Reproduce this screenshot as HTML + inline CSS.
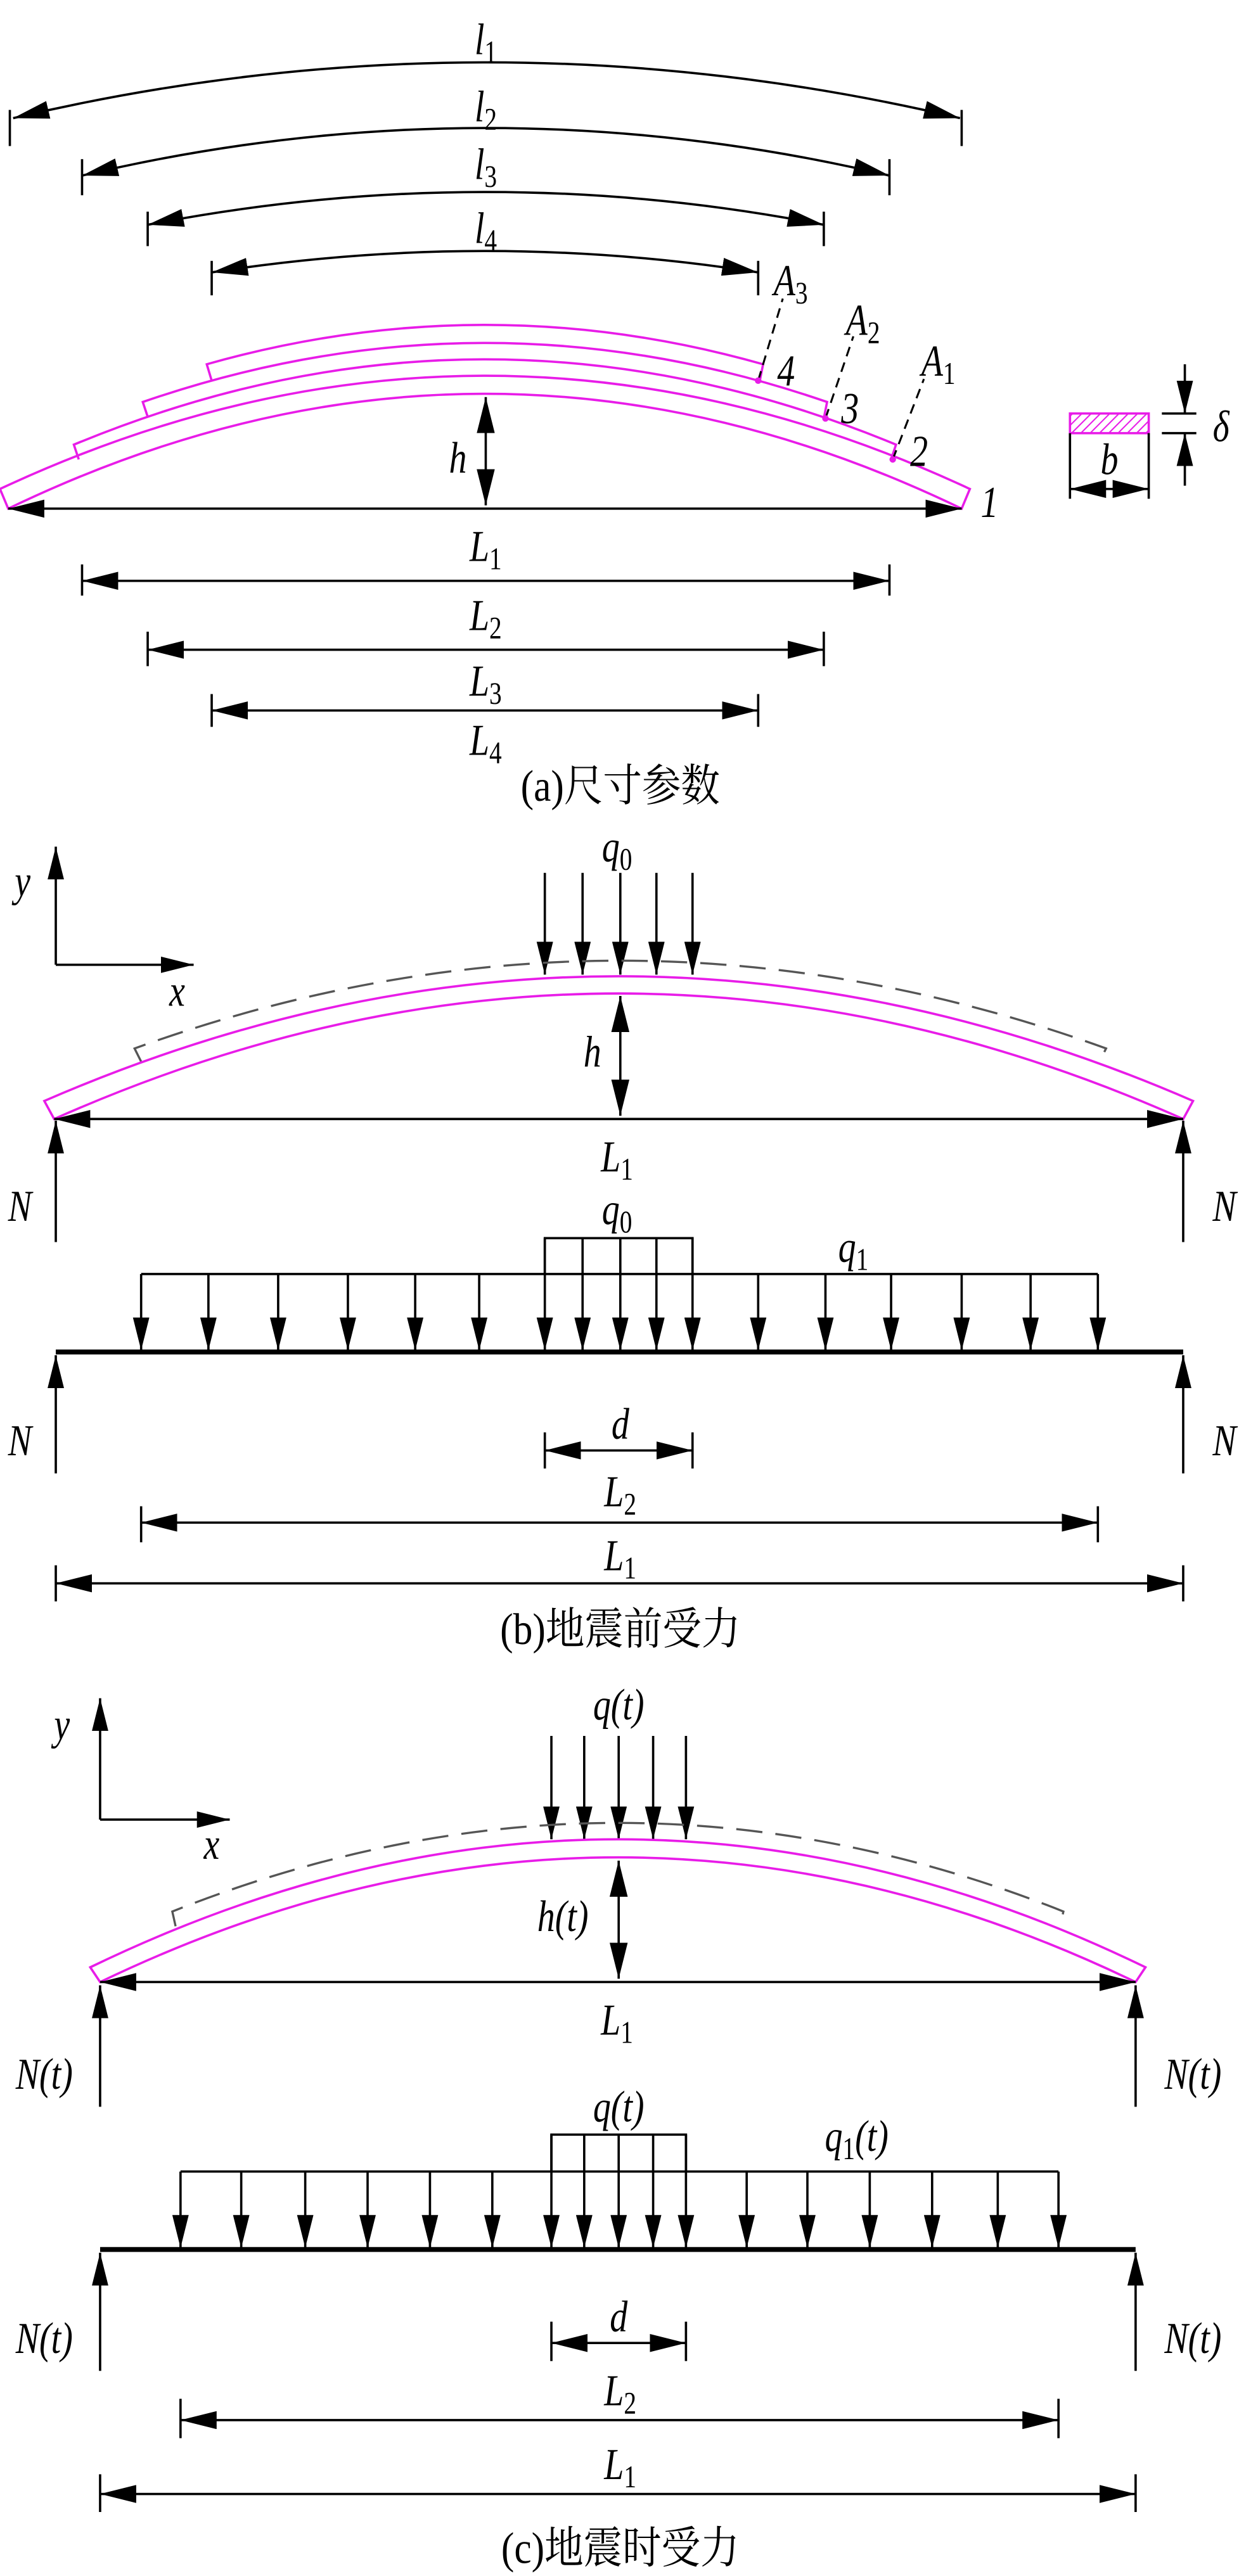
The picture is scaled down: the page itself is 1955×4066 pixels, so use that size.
<!DOCTYPE html>
<html><head><meta charset="utf-8">
<style>
html,body{margin:0;padding:0;background:#fff;}
svg{display:block;}
text{font-family:"Liberation Serif","Noto Serif CJK SC",serif;fill:#000;}
.v{font-style:italic;font-size:27px;text-anchor:middle;transform-box:fill-box;transform-origin:center;transform:scaleX(0.8);}
.s{font-style:normal;font-size:19px;}
.cap{font-family:"Liberation Serif","Noto Serif CJK SC","Noto Sans CJK SC",serif;font-size:27px;text-anchor:middle;transform-box:fill-box;transform-origin:center;transform:scaleX(0.88);}
.ln{stroke:#000;stroke-width:1.4;fill:none;}
.mg{stroke:#e81ce8;stroke-width:1.4;fill:none;}
.gd{stroke:#555;stroke-width:1.3;fill:none;stroke-dasharray:16,8;}
</style></head>
<body>
<svg width="1955" height="4066" viewBox="0 0 755 1570" preserveAspectRatio="none" xmlns="http://www.w3.org/2000/svg">
<defs>
<marker id="a" markerUnits="userSpaceOnUse" markerWidth="22" markerHeight="11" refX="22" refY="5.5" orient="auto-start-reverse" viewBox="0 0 22 11"><path d="M0,0 L22,5.5 L0,11 z" fill="#000"/></marker>
<marker id="d" markerUnits="userSpaceOnUse" markerWidth="20" markerHeight="10" refX="20" refY="5" orient="auto" viewBox="0 0 20 10"><path d="M0,0 L20,5 L0,10 z" fill="#000"/></marker>
<pattern id="h" patternUnits="userSpaceOnUse" width="4" height="4" patternTransform="rotate(45)"><line x1="0" y1="0" x2="0" y2="4" stroke="#e81ce8" stroke-width="1.6"/></pattern>
</defs>

<!-- ===== (a) ===== -->
<g class="ln">
<line x1="6" y1="67" x2="6" y2="89"/><line x1="586" y1="67" x2="586" y2="89"/>
<path d="M8,72 Q296.5,4 585,72" marker-start="url(#a)" marker-end="url(#a)"/>
<line x1="50" y1="97" x2="50" y2="119"/><line x1="542" y1="97" x2="542" y2="119"/>
<path d="M50,107 Q296,49 542,107" marker-start="url(#a)" marker-end="url(#a)"/>
<line x1="90" y1="129" x2="90" y2="150"/><line x1="502" y1="129" x2="502" y2="150"/>
<path d="M90,137 Q296,97 502,137" marker-start="url(#a)" marker-end="url(#a)"/>
<line x1="129" y1="159" x2="129" y2="180"/><line x1="462" y1="159" x2="462" y2="180"/>
<path d="M129,166 Q296,140 462,166" marker-start="url(#a)" marker-end="url(#a)"/>
</g>
<text class="v" x="296" y="33">l<tspan class="s" dy="5">1</tspan></text>
<text class="v" x="296" y="74">l<tspan class="s" dy="5">2</tspan></text>
<text class="v" x="296" y="109">l<tspan class="s" dy="5">3</tspan></text>
<text class="v" x="296" y="148">l<tspan class="s" dy="5">4</tspan></text>

<g class="mg">
<path d="M5,310 Q295.5,170 586,310 L591,298 Q295.5,160 0,298 Z"/>
<path d="M48,280 L45,271 Q295.5,167 546,271 L543,280"/>
<path d="M90,254 L87,245 Q295.5,173 504,245 L502,255"/>
<path d="M129,232 L126,222 Q295.5,174 465,222 L463,232"/>
</g>
<g stroke="#000" stroke-width="1.2" stroke-dasharray="6,4" fill="none">
<line x1="462" y1="232" x2="477" y2="182"/>
<line x1="503" y1="255" x2="520" y2="205"/>
<line x1="544" y1="280" x2="563" y2="231"/>
</g>
<g fill="#e81ce8"><circle cx="462" cy="232" r="2"/><circle cx="503" cy="255" r="2"/><circle cx="544" cy="280" r="2"/></g>
<text class="v" x="482" y="180">A<tspan class="s" dy="5">3</tspan></text>
<text class="v" x="526" y="204">A<tspan class="s" dy="5">2</tspan></text>
<text class="v" x="572" y="229">A<tspan class="s" dy="5">1</tspan></text>
<text class="v" x="479" y="235">4</text>
<text class="v" x="518" y="258">3</text>
<text class="v" x="560" y="284">2</text>
<text class="v" x="603" y="315">1</text>

<line class="ln" x1="296" y1="242" x2="296" y2="308" marker-start="url(#a)" marker-end="url(#a)"/>
<text class="v" x="279" y="288">h</text>
<line class="ln" x1="5" y1="310" x2="586" y2="310" marker-start="url(#a)" marker-end="url(#a)"/>
<text class="v" x="296" y="342">L<tspan class="s" dy="5">1</tspan></text>
<g class="ln">
<line x1="50" y1="344" x2="50" y2="363"/><line x1="542" y1="344" x2="542" y2="363"/>
<line x1="50" y1="354" x2="542" y2="354" marker-start="url(#a)" marker-end="url(#a)"/>
<line x1="90" y1="385" x2="90" y2="406"/><line x1="502" y1="385" x2="502" y2="406"/>
<line x1="90" y1="396" x2="502" y2="396" marker-start="url(#a)" marker-end="url(#a)"/>
<line x1="129" y1="423" x2="129" y2="443"/><line x1="462" y1="423" x2="462" y2="443"/>
<line x1="129" y1="433" x2="462" y2="433" marker-start="url(#a)" marker-end="url(#a)"/>
</g>
<text class="v" x="296" y="384">L<tspan class="s" dy="5">2</tspan></text>
<text class="v" x="296" y="424">L<tspan class="s" dy="5">3</tspan></text>
<text class="v" x="296" y="460">L<tspan class="s" dy="5">4</tspan></text>
<text class="cap" x="378" y="488">(a)尺寸参数</text>

<rect x="652" y="252" width="48" height="12" fill="url(#h)" stroke="#e81ce8" stroke-width="1.4"/>
<g class="ln">
<line x1="708" y1="252" x2="729" y2="252"/><line x1="708" y1="264" x2="729" y2="264"/>
<line x1="722" y1="222" x2="722" y2="252" marker-end="url(#d)"/>
<line x1="722" y1="296" x2="722" y2="264" marker-end="url(#d)"/>
<line x1="652" y1="264" x2="652" y2="304"/><line x1="700" y1="264" x2="700" y2="304"/>
<line x1="652" y1="298" x2="700" y2="298" marker-start="url(#a)" marker-end="url(#a)"/>
</g>
<text class="v" x="744" y="269">δ</text>
<text class="v" x="676" y="289">b</text>

<!-- ===== (b) ===== -->
<g class="ln">
<line x1="34" y1="588" x2="34" y2="516" marker-end="url(#d)"/>
<line x1="34" y1="588" x2="118" y2="588" marker-end="url(#d)"/>
</g>
<text class="v" x="14" y="546">y</text>
<text class="v" x="108" y="613">x</text>
<g class="ln">
<line x1="332" y1="532" x2="332" y2="594" marker-end="url(#d)"/>
<line x1="355" y1="532" x2="355" y2="594" marker-end="url(#d)"/>
<line x1="378" y1="532" x2="378" y2="594" marker-end="url(#d)"/>
<line x1="400" y1="532" x2="400" y2="594" marker-end="url(#d)"/>
<line x1="422" y1="532" x2="422" y2="594" marker-end="url(#d)"/>
</g>
<text class="v" x="376" y="525">q<tspan class="s" dy="5">0</tspan></text>
<path class="gd" d="M86,647 L82,639 Q378,532 674,639 L670,647"/>
<path class="mg" d="M33,682 Q377,529 721,682 L727,671 Q377,519 27,671 Z"/>
<line class="ln" x1="378" y1="607" x2="378" y2="680" marker-start="url(#a)" marker-end="url(#a)"/>
<text class="v" x="361" y="650">h</text>
<line class="ln" x1="33" y1="682" x2="721" y2="682" marker-start="url(#a)" marker-end="url(#a)"/>
<text class="v" x="376" y="714">L<tspan class="s" dy="5">1</tspan></text>
<g class="ln">
<line x1="34" y1="757" x2="34" y2="683" marker-end="url(#d)"/>
<line x1="721" y1="757" x2="721" y2="683" marker-end="url(#d)"/>
</g>
<text class="v" x="12" y="744">N</text>
<text class="v" x="746" y="744">N</text>

<g class="ln">
<polyline points="332,776.5 332,754.6 422,754.6 422,776.5"/>
<line x1="86" y1="776.5" x2="669" y2="776.5"/>
<line x1="86" y1="776.5" x2="86" y2="823" marker-end="url(#d)"/>
<line x1="127" y1="776.5" x2="127" y2="823" marker-end="url(#d)"/>
<line x1="169.5" y1="776.5" x2="169.5" y2="823" marker-end="url(#d)"/>
<line x1="212" y1="776.5" x2="212" y2="823" marker-end="url(#d)"/>
<line x1="253" y1="776.5" x2="253" y2="823" marker-end="url(#d)"/>
<line x1="292" y1="776.5" x2="292" y2="823" marker-end="url(#d)"/>
<line x1="332" y1="754.6" x2="332" y2="823" marker-end="url(#d)"/>
<line x1="355" y1="754.6" x2="355" y2="823" marker-end="url(#d)"/>
<line x1="378" y1="754.6" x2="378" y2="823" marker-end="url(#d)"/>
<line x1="400" y1="754.6" x2="400" y2="823" marker-end="url(#d)"/>
<line x1="422" y1="754.6" x2="422" y2="823" marker-end="url(#d)"/>
<line x1="462" y1="776.5" x2="462" y2="823" marker-end="url(#d)"/>
<line x1="503" y1="776.5" x2="503" y2="823" marker-end="url(#d)"/>
<line x1="543" y1="776.5" x2="543" y2="823" marker-end="url(#d)"/>
<line x1="586" y1="776.5" x2="586" y2="823" marker-end="url(#d)"/>
<line x1="628" y1="776.5" x2="628" y2="823" marker-end="url(#d)"/>
<line x1="669" y1="776.5" x2="669" y2="823" marker-end="url(#d)"/>
</g>
<line x1="34" y1="824" x2="721" y2="824" stroke="#000" stroke-width="3"/>
<text class="v" x="376" y="746">q<tspan class="s" dy="5">0</tspan></text>
<text class="v" x="520" y="769">q<tspan class="s" dy="5">1</tspan></text>
<g class="ln">
<line x1="34" y1="898" x2="34" y2="826" marker-end="url(#d)"/>
<line x1="721" y1="898" x2="721" y2="826" marker-end="url(#d)"/>
</g>
<text class="v" x="12" y="887">N</text>
<text class="v" x="746" y="887">N</text>
<g class="ln">
<line x1="332" y1="873" x2="332" y2="895"/><line x1="422" y1="873" x2="422" y2="895"/>
<line x1="332" y1="884" x2="422" y2="884" marker-start="url(#a)" marker-end="url(#a)"/>
<line x1="86" y1="918" x2="86" y2="940"/><line x1="669" y1="918" x2="669" y2="940"/>
<line x1="86" y1="928" x2="669" y2="928" marker-start="url(#a)" marker-end="url(#a)"/>
<line x1="34" y1="954" x2="34" y2="976"/><line x1="721" y1="954" x2="721" y2="976"/>
<line x1="34" y1="965" x2="721" y2="965" marker-start="url(#a)" marker-end="url(#a)"/>
</g>
<text class="v" x="378" y="877">d</text>
<text class="v" x="378" y="918">L<tspan class="s" dy="5">2</tspan></text>
<text class="v" x="378" y="957">L<tspan class="s" dy="5">1</tspan></text>
<text class="cap" x="378" y="1002">(b)地震前受力</text>

<!-- ===== (c) ===== -->
<g class="ln">
<line x1="61" y1="1109" x2="61" y2="1035" marker-end="url(#d)"/>
<line x1="61" y1="1109" x2="140" y2="1109" marker-end="url(#d)"/>
</g>
<text class="v" x="38" y="1060">y</text>
<text class="v" x="129" y="1133">x</text>
<g class="ln">
<line x1="336" y1="1058" x2="336" y2="1121" marker-end="url(#d)"/>
<line x1="356" y1="1058" x2="356" y2="1121" marker-end="url(#d)"/>
<line x1="377" y1="1058" x2="377" y2="1121" marker-end="url(#d)"/>
<line x1="398" y1="1058" x2="398" y2="1121" marker-end="url(#d)"/>
<line x1="418" y1="1058" x2="418" y2="1121" marker-end="url(#d)"/>
</g>
<text class="v" x="377" y="1048">q(t)</text>
<path class="gd" d="M107,1174 L105,1165 Q377,1057 648,1165 L646,1174"/>
<path class="mg" d="M61,1208 Q377,1056 692,1208 L698,1199 Q377,1043 55,1199 Z"/>
<line class="ln" x1="377" y1="1134" x2="377" y2="1206" marker-start="url(#a)" marker-end="url(#a)"/>
<text class="v" x="343" y="1177">h(t)</text>
<line class="ln" x1="61" y1="1208" x2="692" y2="1208" marker-start="url(#a)" marker-end="url(#a)"/>
<text class="v" x="376" y="1240">L<tspan class="s" dy="5">1</tspan></text>
<g class="ln">
<line x1="61" y1="1284" x2="61" y2="1210" marker-end="url(#d)"/>
<line x1="692" y1="1284" x2="692" y2="1210" marker-end="url(#d)"/>
</g>
<text class="v" x="27" y="1273">N(t)</text>
<text class="v" x="727" y="1273">N(t)</text>

<g class="ln">
<polyline points="336,1323.5 336,1301 418,1301 418,1323.5"/>
<line x1="110" y1="1323.5" x2="645" y2="1323.5"/>
<line x1="110" y1="1323.5" x2="110" y2="1370" marker-end="url(#d)"/>
<line x1="147" y1="1323.5" x2="147" y2="1370" marker-end="url(#d)"/>
<line x1="186" y1="1323.5" x2="186" y2="1370" marker-end="url(#d)"/>
<line x1="224" y1="1323.5" x2="224" y2="1370" marker-end="url(#d)"/>
<line x1="262" y1="1323.5" x2="262" y2="1370" marker-end="url(#d)"/>
<line x1="300" y1="1323.5" x2="300" y2="1370" marker-end="url(#d)"/>
<line x1="336" y1="1301" x2="336" y2="1370" marker-end="url(#d)"/>
<line x1="356" y1="1301" x2="356" y2="1370" marker-end="url(#d)"/>
<line x1="377" y1="1301" x2="377" y2="1370" marker-end="url(#d)"/>
<line x1="398" y1="1301" x2="398" y2="1370" marker-end="url(#d)"/>
<line x1="418" y1="1301" x2="418" y2="1370" marker-end="url(#d)"/>
<line x1="455" y1="1323.5" x2="455" y2="1370" marker-end="url(#d)"/>
<line x1="492" y1="1323.5" x2="492" y2="1370" marker-end="url(#d)"/>
<line x1="530" y1="1323.5" x2="530" y2="1370" marker-end="url(#d)"/>
<line x1="568" y1="1323.5" x2="568" y2="1370" marker-end="url(#d)"/>
<line x1="608" y1="1323.5" x2="608" y2="1370" marker-end="url(#d)"/>
<line x1="645" y1="1323.5" x2="645" y2="1370" marker-end="url(#d)"/>
</g>
<line x1="61" y1="1371" x2="692" y2="1371" stroke="#000" stroke-width="3"/>
<text class="v" x="377" y="1293">q(t)</text>
<text class="v" x="522" y="1311">q<tspan class="s" dy="5">1</tspan><tspan dy="-5">(t)</tspan></text>
<g class="ln">
<line x1="61" y1="1445" x2="61" y2="1373" marker-end="url(#d)"/>
<line x1="692" y1="1445" x2="692" y2="1373" marker-end="url(#d)"/>
</g>
<text class="v" x="27" y="1434">N(t)</text>
<text class="v" x="727" y="1434">N(t)</text>
<g class="ln">
<line x1="336" y1="1415" x2="336" y2="1439"/><line x1="418" y1="1415" x2="418" y2="1439"/>
<line x1="336" y1="1428" x2="418" y2="1428" marker-start="url(#a)" marker-end="url(#a)"/>
<line x1="110" y1="1462" x2="110" y2="1486"/><line x1="645" y1="1462" x2="645" y2="1486"/>
<line x1="110" y1="1475" x2="645" y2="1475" marker-start="url(#a)" marker-end="url(#a)"/>
<line x1="61" y1="1508" x2="61" y2="1531"/><line x1="692" y1="1508" x2="692" y2="1531"/>
<line x1="61" y1="1520" x2="692" y2="1520" marker-start="url(#a)" marker-end="url(#a)"/>
</g>
<text class="v" x="377" y="1421">d</text>
<text class="v" x="378" y="1466">L<tspan class="s" dy="5">2</tspan></text>
<text class="v" x="378" y="1511">L<tspan class="s" dy="5">1</tspan></text>
<text class="cap" x="378" y="1562">(c)地震时受力</text>
</svg>
</body></html>
